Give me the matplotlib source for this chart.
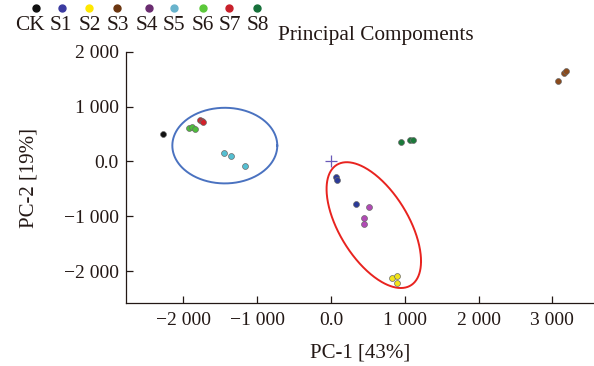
import numpy as np
import matplotlib
matplotlib.use("Agg")
import matplotlib.pyplot as plt
from matplotlib.ticker import FuncFormatter, FixedLocator

plt.rcParams['font.family'] = ['Liberation Serif', 'DejaVu Serif']

# ---- data ----
groups = ['CK', 'S1', 'S2', 'S3', 'S4', 'S5', 'S6', 'S7', 'S8']
point_colors = ['#111111', '#2B3A98', '#F2E41A', '#8A4A1C', '#B14AB5',
                '#55BFD2', '#4DBD3A', '#D2202A', '#1B7A3A']
legend_colors = ['#111111', '#3A3AA0', '#FFE800', '#6B3510', '#6A2C70',
                 '#68B3CC', '#5BC83A', '#C8202A', '#16703A']

pc1 = {
    'CK': [-2272],
    'S1': [70, 80, 340],
    'S2': [831, 890, 890],
    'S3': [3080, 3161, 3180],
    'S4': [515, 452, 447],
    'S5': [-1450, -1355, -1165],
    'S6': [-1921, -1881, -1848],
    'S7': [-1775, -1752, -1730],
    'S8': [944, 1073, 1118],
}
pc2 = {
    'CK': [496],
    'S1': [-285, -335, -776],
    'S2': [-2120, -2084, -2212],
    'S3': [1469, 1609, 1657],
    'S4': [-830, -1031, -1135],
    'S5': [150, 95, -82],
    'S6': [606, 630, 593],
    'S7': [757, 745, 726],
    'S8': [350, 392, 398],
}

x_ticks = [-2000, -1000, 0, 1000, 2000, 3000]
y_ticks = [-2000, -1000, 0, 1000, 2000]
x_label = 'PC-1 [43%]'
y_label = 'PC-2 [19%]'
title = 'Principal Compoments'

# ellipses: center x, center y, half-width, half-height, correlation
blue_ell = (-1439, 290, 711, 690, 0.0)
red_ell = (580, -1161, 640, 1148, -0.573)

TXT = '#231815'

fig = plt.figure(figsize=(5.94, 3.66), dpi=100)
ax = fig.add_axes([125.7 / 594, (366 - 303.3) / 366, 1 - 125.7 / 594, (303.3 - 51.9) / 366])
ax.set_xlim(-2782, 3564)
ax.set_ylim(-2588, 2000)

for s in ['top', 'right']:
    ax.spines[s].set_visible(False)
for s in ['left', 'bottom']:
    ax.spines[s].set_color(TXT)
    ax.spines[s].set_linewidth(0.9)


def fmt(v, pos):
    if v == 0:
        return '0.0'
    s = f"{abs(int(round(v))):,}".replace(',', ' ')
    return ('\u2212' if v < 0 else '') + s


ax.xaxis.set_major_locator(FixedLocator(x_ticks))
ax.yaxis.set_major_locator(FixedLocator(y_ticks))
ax.xaxis.set_major_formatter(FuncFormatter(fmt))
ax.yaxis.set_major_formatter(FuncFormatter(fmt))
ax.tick_params(axis='both', direction='in', length=5, width=0.9, color=TXT,
               labelsize=14, labelcolor=TXT)
ax.tick_params(axis='x', pad=6.5)
ax.tick_params(axis='y', pad=5)

ax.set_xlabel(x_label, fontsize=15, color=TXT, labelpad=10)
ax.set_ylabel(y_label, fontsize=15, color=TXT, labelpad=18)


def draw_ellipse(params, color):
    cx, cy, w, h, rho = params
    t = np.linspace(0, 2 * np.pi, 400)
    x = cx + w * np.cos(t)
    y = cy + h * (rho * np.cos(t) + np.sqrt(1 - rho ** 2) * np.sin(t))
    ax.plot(x, y, color=color, lw=1.4, zorder=2)


draw_ellipse(blue_ell, '#4A72C0')
draw_ellipse(red_ell, '#E8231F')

for g, c in zip(groups, point_colors):
    ax.scatter(pc1[g], pc2[g], s=18, color=c, edgecolors='#6a6a6a',
               linewidths=0.5, zorder=3)

# origin marker
ax.plot([0], [0], marker='+', ms=9, mew=0.9, color='#6A5AB8', zorder=4)

# legend at top
label_x = [29.5, 61, 89.5, 117.5, 147, 174, 202.5, 230, 257.5]
dot_x = [35.7, 61.7, 89.3, 117.3, 149, 174.3, 203.3, 229.3, 256.7]
for g, c, lx, dx in zip(groups, legend_colors, label_x, dot_x):
    fig.text(lx / 594, 1 - 30 / 366, g, ha='center', va='baseline',
             fontsize=15.3, color=TXT)
    fig.add_artist(plt.Line2D([dx / 594], [1 - 7.5 / 366], marker='o', ms=5,
                              color=c, mec=c, transform=fig.transFigure))

fig.text(278 / 594, 1 - 40 / 366, title, ha='left', va='baseline',
         fontsize=15.3, color=TXT)

fig.savefig('out.png', dpi=100)
